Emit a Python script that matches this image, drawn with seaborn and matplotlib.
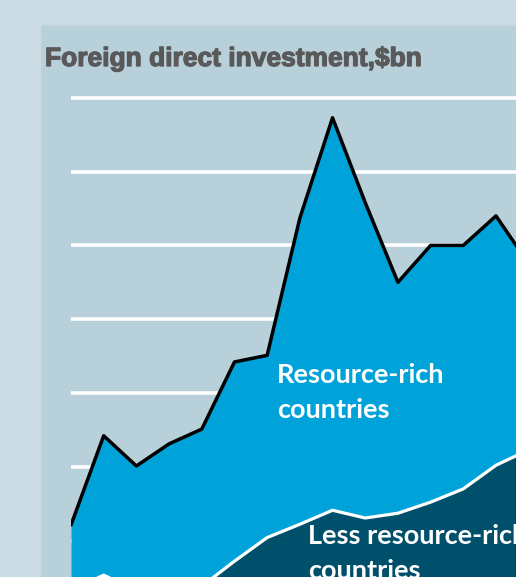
import matplotlib
matplotlib.use("Agg")
import matplotlib.pyplot as plt
import matplotlib.patheffects as pe
import seaborn as sns
import pandas as pd
from matplotlib.patches import Rectangle

# ---- data ($bn) ----
years = list(range(2000, 2015))
less_resource_rich = [3.3, 5.3, 3.3, 3.6, 3.8, 7.2, 10.4, 12.2, 14.1, 13.05, 13.7, 15.2, 17.0, 20.2, 22.3]
resource_rich = [8.8, 18.9, 16.8, 19.5, 21.3, 27.0, 24.7, 41.5, 53.2, 42.75, 31.3, 34.8, 33.0, 33.8, 25.2]
grid_values = [10, 20, 30, 40, 50, 60, 70]
title = "Foreign direct investment,$bn"
label_rich = ["Resource-rich", "countries"]
label_less = ["Less resource-rich", "countries"]

df = pd.DataFrame({"year": years, "less": less_resource_rich, "rich": resource_rich})
df["total"] = df["less"] + df["rich"]

sns.set_theme(style="white")
plt.rcParams["font.family"] = ["Liberation Sans", "DejaVu Sans"]

W, H = 516, 577
fig = plt.figure(figsize=(W / 100, H / 100), dpi=100)
outer_bg = "#cbdce5"
inner_bg = "#b8d0da"
fig.patch.set_facecolor(outer_bg)

def fx(px):
    return px / W

def fy(py):
    return (H - py) / H

# inner panel
fig.patches.append(Rectangle((fx(40.5), 0), 1 - fx(40.5), fy(24.5), transform=fig.transFigure,
                             facecolor=inner_bg, edgecolor="#c2d2d9", linewidth=1.0, zorder=-5))

ax = fig.add_axes([fx(71), 0, 1 - fx(71), fy(85)])
ax.set_zorder(1)
ax.set_facecolor("none")
ax.patch.set_visible(False)

px_per_year = (496 - 71) / 13
ax.set_xlim(2000, 2000 + (W - 71) / px_per_year)
y0 = 614.3
scale = 7.378
ax.set_ylim((y0 - H) / scale, (y0 - 85) / scale)

ax.set_yticks(grid_values)
ax.yaxis.grid(True, color="white", linewidth=2.6, zorder=0)
ax.xaxis.grid(False)
ax.set_axisbelow(True)
ax.tick_params(left=False, bottom=False, labelleft=False, labelbottom=False)
for s in ax.spines.values():
    s.set_visible(False)

light = "#00a3d9"
dark = "#00506b"
ax.fill_between(df["year"], 0, df["less"], color=dark, linewidth=0, zorder=2)
ax.fill_between(df["year"], df["less"], df["total"], color=light, linewidth=0, zorder=2)

sns.lineplot(data=df, x="year", y="less", ax=ax, color="white", linewidth=2.3, zorder=3)
sns.lineplot(data=df, x="year", y="total", ax=ax, color="black", linewidth=2.5, zorder=4)
ax.set_xlabel("")
ax.set_ylabel("")

fig.text(fx(45), fy(66), title, fontsize=19.0, fontweight="bold", color="#595959",
         family=["Liberation Sans", "DejaVu Sans"], va="baseline", ha="left", zorder=5,
         path_effects=[pe.withStroke(linewidth=0.9, foreground="#595959")])

lab_font = ["Lato", "DejaVu Sans"]
lab_size = 19.5
for txt, (px, py) in zip(label_rich + label_less, [(277, 383), (277, 418), (308, 544), (308, 579)]):
    fig.text(fx(px), fy(py), txt, fontsize=lab_size, fontweight="bold", color="white",
             family=lab_font, va="baseline", ha="left", zorder=5)

fig.savefig("out.png", dpi=100, facecolor=fig.get_facecolor())
